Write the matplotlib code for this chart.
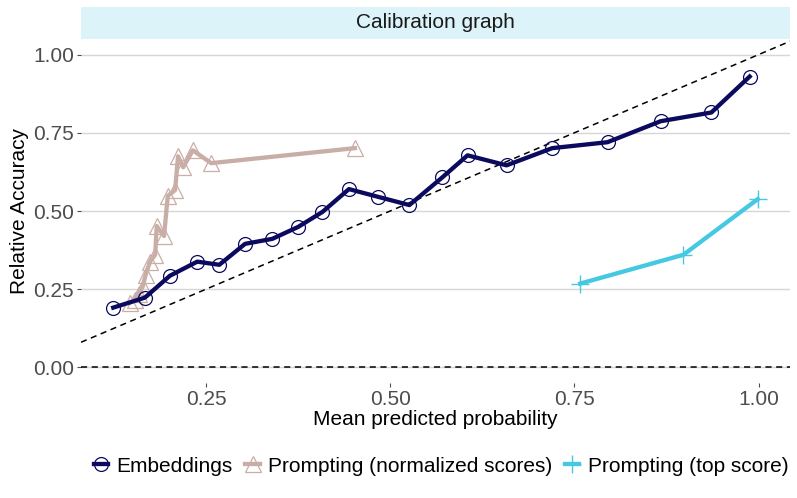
import matplotlib
matplotlib.use("Agg")
import matplotlib.pyplot as plt
from matplotlib.lines import Line2D
from matplotlib.patches import Rectangle

plt.rcParams['font.family'] = ['Liberation Sans', 'DejaVu Sans']

# ---- data ----
emb_x = [0.124, 0.167, 0.201, 0.238, 0.268, 0.303, 0.340, 0.375, 0.408, 0.444,
         0.484, 0.526, 0.571, 0.605, 0.658, 0.720, 0.795, 0.867, 0.936, 0.988]
emb_y = [0.191, 0.223, 0.293, 0.338, 0.328, 0.395, 0.411, 0.449, 0.497, 0.570,
         0.545, 0.519, 0.608, 0.678, 0.646, 0.701, 0.720, 0.787, 0.815, 0.930]

norm_x = [0.147, 0.154, 0.159, 0.164, 0.168, 0.174, 0.181, 0.183, 0.193, 0.198,
          0.208, 0.212, 0.219, 0.232, 0.257, 0.452]
norm_y = [0.207, 0.217, 0.236, 0.258, 0.296, 0.338, 0.360, 0.452, 0.420, 0.548,
          0.567, 0.675, 0.640, 0.694, 0.653, 0.701]

top_x = [0.758, 0.898, 0.999]
top_y = [0.268, 0.360, 0.538]

series_names = ["Embeddings", "Prompting (normalized scores)", "Prompting (top score)"]
x_ticks = [0.25, 0.50, 0.75, 1.00]
y_ticks = [0.00, 0.25, 0.50, 0.75, 1.00]
panel_title = "Calibration graph"

# ---- style ----
c_emb = "#0b0a5e"
c_norm = "#c9aea7"
c_top = "#45c9e2"
FS = 15

W, H = 797, 498
fig = plt.figure(figsize=(W / 100, H / 100), dpi=100)
L, R, T, B = 81, 790, 39, 383
ax = fig.add_axes([L / W, 1 - B / H, (R - L) / W, (B - T) / H])

# reference lines
ax.axhline(0, color="black", lw=1.1, ls=(0, (4, 3)), zorder=2)
ax.axline((0, 0), slope=1, color="black", lw=1.1, ls=(0, (4, 3)), zorder=2)

lw = 3.1
ax.plot(emb_x, emb_y, color=c_emb, lw=lw, marker="o", ms=10, mfc="none", mec=c_emb,
        mew=0.9, zorder=4)
ax.plot(norm_x, norm_y, color=c_norm, lw=lw, marker="^", ms=11, mfc="none", mec=c_norm,
        mew=0.9, zorder=3)
ax.plot(top_x, top_y, color=c_top, lw=lw, marker="+", ms=13, mec=c_top, mew=1.0, zorder=3)

allx = emb_x + norm_x + top_x
xmin, xmax = min(allx), max(allx)
span = xmax - xmin
ax.set_xlim(xmin - 0.05 * span, xmax + 0.05 * span)
ax.set_ylim(-0.05, 1.05)

ax.set_xticks(x_ticks)
ax.set_xticklabels([f"{v:.2f}" for v in x_ticks])
ax.set_yticks(y_ticks)
ax.set_yticklabels([f"{v:.2f}" for v in y_ticks])
ax.tick_params(axis="both", labelsize=FS, colors="#4d4d4d", length=3, width=0.8,
               color="#4d4d4d", pad=2)
for s in ax.spines.values():
    s.set_visible(False)
ax.grid(axis="y", color="#d6d6d6", lw=1.0)
ax.grid(axis="x", visible=False)
ax.set_axisbelow(True)

ax.set_xlabel("Mean predicted probability", fontsize=FS, color="black", labelpad=1)
ax.set_ylabel("Relative Accuracy", fontsize=FS, color="black", labelpad=3)

# strip
fig.patches.append(Rectangle((L / W, 1 - 39 / H), (R - L) / W, 32 / H,
                             transform=fig.transFigure, facecolor="#dcf3fa",
                             edgecolor="none"))
fig.text((L + R) / 2 / W, 1 - 23 / H, panel_title, ha="center", va="center",
         fontsize=FS, color="#1a1a1a")

handles = [
    Line2D([], [], color=c_emb, lw=lw, marker="o", ms=10, mfc="none", mec=c_emb, mew=0.9),
    Line2D([], [], color=c_norm, lw=lw, marker="^", ms=11, mfc="none", mec=c_norm, mew=0.9),
    Line2D([], [], color=c_top, lw=lw, marker="+", ms=13, mec=c_top, mew=1.0),
]
fig.legend(handles, series_names, loc="center", bbox_to_anchor=(441 / W, 1 - 466 / H),
           ncol=3, frameon=False, fontsize=FS, handlelength=0.7, handletextpad=0.4,
           columnspacing=0.6, borderpad=0, borderaxespad=0)

fig.savefig("out.png", dpi=100)
